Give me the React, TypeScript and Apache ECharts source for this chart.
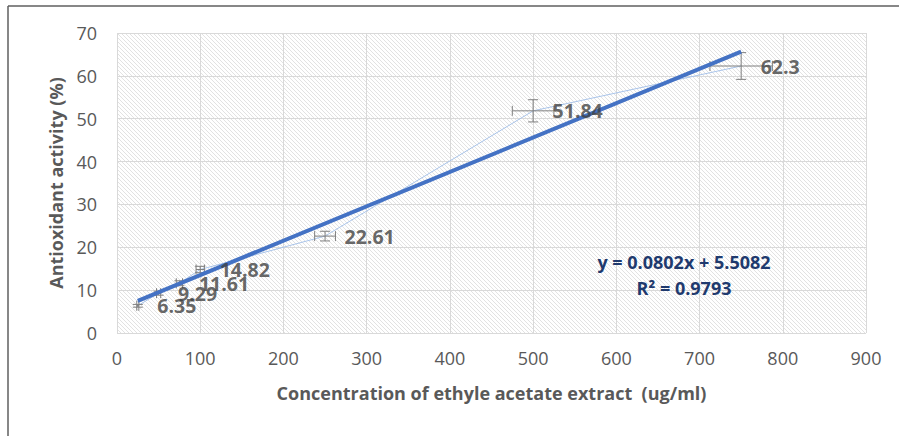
import React, { useEffect, useRef } from "react";
import * as echarts from "echarts";

const concentrations = [25, 50, 75, 100, 250, 500, 750];
const activity = [6.35, 9.29, 11.61, 14.82, 22.61, 51.84, 62.3];
const xErrors = [1.25, 2.5, 3.75, 5, 12.5, 25, 37.5];
const yErrors = [0.32, 0.46, 0.58, 0.74, 1.13, 2.59, 3.12];
const xTicks = [0, 100, 200, 300, 400, 500, 600, 700, 800, 900];
const yTicks = [0, 10, 20, 30, 40, 50, 60, 70];
const trendSlope = 0.0802;
const trendIntercept = 5.5082;
const rSquared = 0.9793;
const trendRange = [25, 750];

function hatchPattern(): string {
  const c = document.createElement("canvas");
  c.width = 8;
  c.height = 8;
  const ctx = c.getContext("2d")!;
  ctx.fillStyle = "#ffffff";
  ctx.fillRect(0, 0, 8, 8);
  ctx.fillStyle = "#e2e2e2";
  for (let y = 0; y < 8; y++) {
    for (let x = 0; x < 8; x++) {
      if ((((x - y) % 4) + 4) % 4 === 0) ctx.fillRect(x, y, 1, 1);
    }
  }
  return c.toDataURL();
}

export default function App() {
  const ref = useRef<HTMLDivElement>(null);
  useEffect(() => {
    if (!ref.current) return;
    const chart = echarts.init(ref.current, undefined, { renderer: "svg" });
    const pts = concentrations.map((x, i) => [x, activity[i]]);
    const errData = concentrations.map((x, i) => [x, activity[i], xErrors[i], yErrors[i]]);
    const trend = trendRange.map((x) => [x, trendSlope * x + trendIntercept]);
    const axisFont = { color: "#595959", fontSize: 18, fontFamily: "Open Sans" };
    chart.setOption({
      animation: false,
      grid: {
        left: 117,
        top: 33,
        right: 33,
        bottom: 103,
        show: true,
        borderWidth: 0,
        backgroundColor: { image: hatchPattern(), repeat: "repeat" } as any,
      },
      xAxis: {
        type: "value",
        min: xTicks[0],
        max: xTicks[xTicks.length - 1],
        interval: 100,
        axisLine: { show: false },
        axisTick: { show: false },
        splitLine: { show: true, lineStyle: { color: "#d9d9d9", width: 1 } },
        axisLabel: { ...axisFont, margin: 16 },
        name: "Concentration of ethyle acetate extract  (ug/ml)",
        nameLocation: "middle",
        nameGap: 51,
        nameTextStyle: { color: "#595959", fontSize: 18, fontWeight: "bold", fontFamily: "Open Sans" },
      },
      yAxis: {
        type: "value",
        min: yTicks[0],
        max: yTicks[yTicks.length - 1],
        interval: 10,
        axisLine: { show: false },
        axisTick: { show: false },
        splitLine: { show: true, lineStyle: { color: "#d9d9d9", width: 1 } },
        axisLabel: { ...axisFont, margin: 20 },
        name: "Antioxidant activity (%)",
        nameLocation: "middle",
        nameGap: 52,
        nameTextStyle: { color: "#595959", fontSize: 18, fontWeight: "bold", fontFamily: "Open Sans" },
      },
      series: [
        {
          type: "line",
          data: pts,
          symbol: "none",
          lineStyle: { color: "#a9c4ea", width: 1 },
          z: 2,
        },
        {
          type: "custom",
          data: errData,
          z: 3,
          renderItem: (params: any, api: any) => {
            const x = api.value(0);
            const y = api.value(1);
            const ex = api.value(2);
            const ey = api.value(3);
            const l = api.coord([x - ex, y]);
            const r = api.coord([x + ex, y]);
            const t = api.coord([x, y + ey]);
            const b = api.coord([x, y - ey]);
            const cap = 5;
            const style = { stroke: "#7f7f7f", lineWidth: 1 };
            const mk = (x1: number, y1: number, x2: number, y2: number) => ({
              type: "line",
              shape: { x1, y1, x2, y2 },
              style,
            });
            return {
              type: "group",
              children: [
                mk(l[0], l[1], r[0], r[1]),
                mk(l[0], l[1] - cap, l[0], l[1] + cap),
                mk(r[0], r[1] - cap, r[0], r[1] + cap),
                mk(t[0], t[1], b[0], b[1]),
                mk(t[0] - cap, t[1], t[0] + cap, t[1]),
                mk(b[0] - cap, b[1], b[0] + cap, b[1]),
              ],
            };
          },
        },
        {
          type: "line",
          data: trend,
          symbol: "none",
          lineStyle: { color: "#4472c4", width: 4 },
          z: 4,
        },
        {
          type: "scatter",
          data: pts,
          symbolSize: 1,
          itemStyle: { color: "rgba(0,0,0,0)" },
          z: 10,
          label: {
            show: true,
            position: "right",
            distance: 19,
            formatter: (p: any) => String(p.value[1]),
            color: "#404040",
            fontSize: 19.5,
            fontWeight: "bold",
            fontFamily: "Open Sans",
          },
        },
      ],
      graphic: [
        {
          type: "line",
          shape: { x1: 8, y1: 6, x2: 899, y2: 6 },
          style: { stroke: "#5f5f5f", lineWidth: 1.5 },
          silent: true,
        },
        {
          type: "line",
          shape: { x1: 8, y1: 6, x2: 8, y2: 436 },
          style: { stroke: "#5f5f5f", lineWidth: 1.5 },
          silent: true,
        },
        {
          type: "text",
          x: 684,
          y: 262,
          z: 20,
          style: {
            text: `y = ${trendSlope}x + ${trendIntercept}`,
            fill: "#1f3a6e",
            font: "bold 18px 'Open Sans'",
            textAlign: "center",
            textVerticalAlign: "middle",
          },
        },
        {
          type: "text",
          x: 684,
          y: 288,
          z: 20,
          style: {
            text: `R² = ${rSquared}`,
            fill: "#1f3a6e",
            font: "bold 18px 'Open Sans'",
            textAlign: "center",
            textVerticalAlign: "middle",
          },
        },
      ],
    });
    return () => chart.dispose();
  }, []);
  return (
    <div
      ref={ref}
      style={{ position: "fixed", left: 0, top: 0, width: 899, height: 436, background: "#fff" }}
    />
  );
}
